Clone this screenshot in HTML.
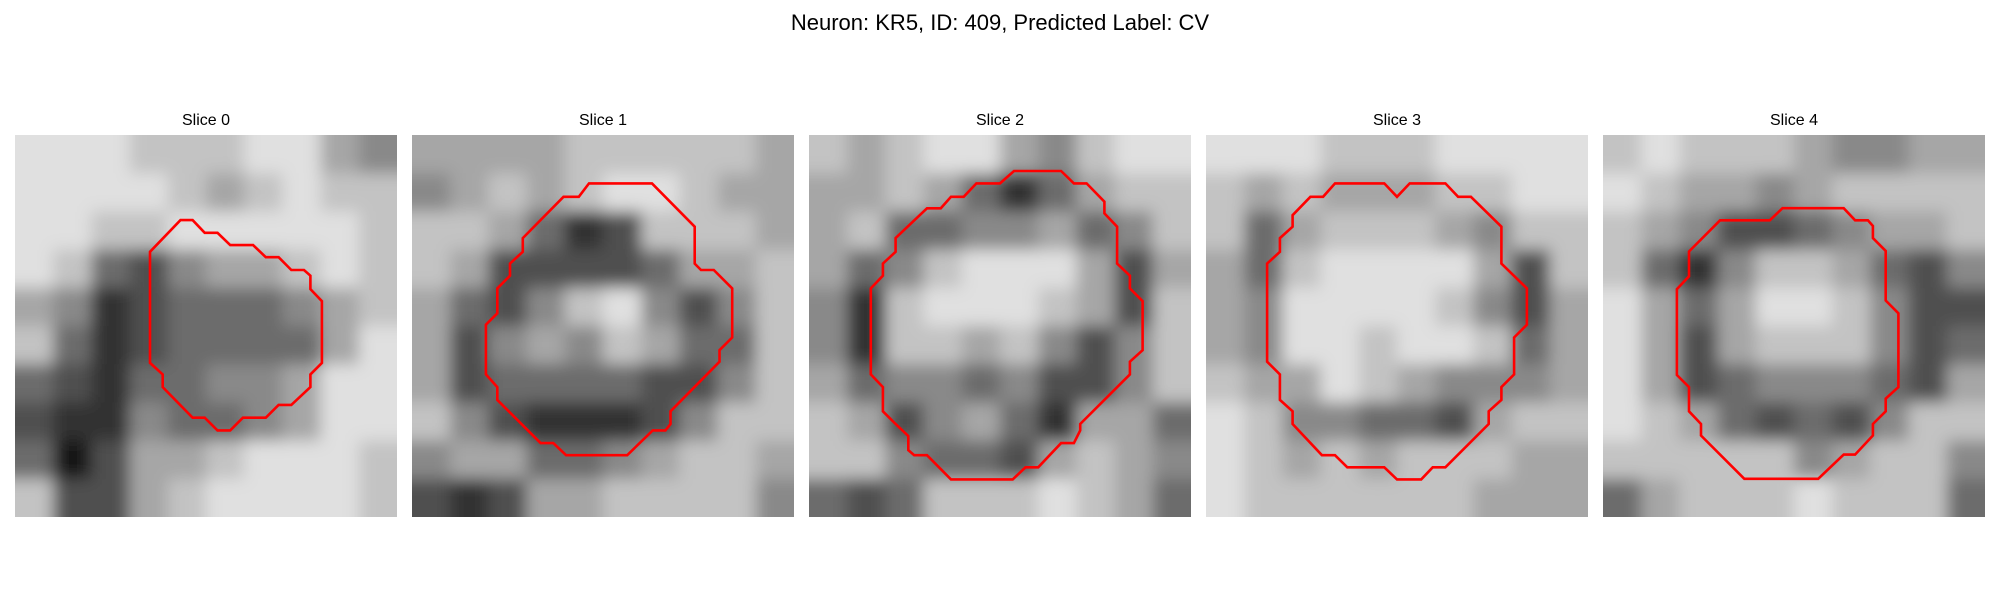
<!DOCTYPE html>
<html><head><meta charset="utf-8">
<style>
html,body{margin:0;padding:0;background:#fff;}
svg{display:block;font-family:"Liberation Sans","DejaVu Sans",sans-serif;}
</style></head>
<body>
<svg id="fig" width="2000" height="600" viewBox="0 0 2000 600" xmlns="http://www.w3.org/2000/svg">
<defs>
<filter id="soft" x="-0.1" y="-0.1" width="1.2" height="1.2" filterUnits="objectBoundingBox">
<feGaussianBlur stdDeviation="8"/>
</filter>
</defs>
<text x="1000" y="30" text-anchor="middle" font-size="22" fill="#000">Neuron: KR5, ID: 409, Predicted Label: CV</text>
<g id="panels"></g>
</svg>
<script>
const sliceTitles = ["Slice 0","Slice 1","Slice 2","Slice 3","Slice 4"];
// coarse 10x10 intensity grids (0 = black, 9 = white)
const grid0 = [
[8,8,8,7,7,7,8,8,6,5],[8,8,8,8,7,6,7,8,7,7],[8,8,7,7,8,8,8,8,8,7],[8,7,4,3,5,6,6,7,8,7],
[6,5,2,3,4,4,4,5,6,7],[7,4,2,3,4,4,4,4,6,8],[4,3,2,4,4,5,5,6,8,8],[3,2,2,5,4,4,5,6,8,8],
[4,1,3,6,6,7,8,8,8,7],[7,3,3,6,7,8,8,8,8,7]];
const grid1 = [
[6,6,6,6,7,7,7,7,7,6],[5,6,7,6,7,8,8,7,6,6],[7,7,6,4,2,3,7,7,7,6],[7,6,3,3,3,3,4,6,6,7],
[6,4,3,5,7,8,5,3,5,7],[6,3,5,6,5,7,6,4,4,7],[6,3,4,4,4,4,3,3,5,7],[7,5,3,2,2,2,3,5,7,7],
[5,6,6,4,4,5,6,7,7,6],[3,2,3,6,6,7,7,7,7,5]];
const grid2 = [
[7,6,7,8,8,6,5,7,8,8],[6,6,7,6,4,2,4,6,7,7],[6,7,4,4,5,5,6,4,5,7],[6,4,5,7,8,8,8,6,3,6],
[5,2,7,8,8,8,7,6,3,7],[5,2,7,7,6,7,5,3,5,7],[6,4,5,5,4,5,3,3,5,7],[7,6,3,5,6,4,2,6,6,4],
[7,7,5,4,4,3,6,7,6,5],[4,3,4,7,7,7,8,7,6,4]];
const grid3 = [
[8,8,8,7,7,7,8,8,8,8],[7,6,7,6,6,6,7,7,8,8],[7,4,6,7,7,7,6,5,7,7],[6,4,7,8,8,8,8,6,3,7],
[6,5,8,8,8,8,7,5,3,6],[6,5,8,8,7,8,8,7,4,6],[7,6,6,8,7,6,5,5,5,6],[8,7,5,5,4,4,3,6,7,7],
[8,7,6,7,6,7,7,7,6,6],[8,7,7,7,7,7,7,6,6,6]];
const grid4 = [
[7,8,7,7,7,6,5,5,6,6],[8,7,6,6,5,6,7,7,7,7],[7,6,5,3,3,4,5,6,6,7],[7,4,2,5,7,7,6,4,3,5],
[8,6,4,6,8,8,7,5,3,3],[8,6,3,6,7,7,7,5,3,4],[8,6,3,4,5,5,5,4,3,6],[8,7,6,4,3,4,3,5,7,7],
[7,7,7,7,7,5,6,7,7,5],[4,6,7,7,7,8,7,7,7,4]];
// contour vertices in image cell units (0..30)
const contour0 = [[13,6.68],[13.95,6.68],[14.9,7.68],[15.9,7.68],[16.9,8.65],[18.7,8.65],[19.7,9.6],[20.7,9.6],[21.7,10.6],[22.7,10.6],[23.2,11.05],[23.2,12.1],[24.1,13.05],[24.1,17.9],[23.2,18.8],[23.2,19.8],[21.7,21.2],[20.7,21.2],[19.7,22.2],[17.9,22.2],[16.9,23.2],[15.9,23.2],[14.9,22.2],[13.95,22.2],[11.6,19.8],[11.6,18.8],[10.6,17.9],[10.6,9.17]];
const contour1 = [[13.9,3.8],[18.85,3.8],[22.2,7.2],[22.2,10.1],[22.7,10.6],[23.7,10.6],[25.15,12.05],[25.15,15.9],[24.15,16.9],[24.15,17.8],[20.3,21.7],[20.3,22.7],[19.9,23.2],[18.9,23.2],[16.9,25.15],[12.1,25.15],[11.1,24.2],[10.1,24.2],[6.7,20.8],[6.7,19.8],[5.8,18.8],[5.8,14.9],[6.7,14],[6.7,12.05],[7.7,11.05],[7.7,10.1],[8.7,9.17],[8.7,8.1],[11.9,4.85],[13.1,4.85]];
const contour2 = [[16.1,2.83],[19.8,2.83],[20.8,3.8],[21.8,3.8],[23.2,5.24],[23.2,6.16],[24.2,7.2],[24.2,10.1],[25.2,11.05],[25.2,12.05],[26.2,13.05],[26.2,16.9],[25.2,17.8],[25.2,18.8],[21.3,22.7],[21.3,23.2],[20.8,24.2],[19.8,24.2],[18,26.1],[17,26.1],[16,27.05],[11.15,27.05],[9.27,25.15],[8.26,25.15],[7.8,24.75],[7.8,23.65],[6.8,22.7],[5.8,21.7],[5.8,19.8],[4.85,18.8],[4.85,12.05],[5.8,11.05],[5.8,10.1],[6.8,9.17],[6.8,8.1],[9.27,5.76],[10.35,5.76],[11.15,4.85],[12.15,4.85],[13.15,3.8],[15,3.8]];
const contour3 = [[10.13,3.8],[14,3.8],[15,4.85],[16,3.8],[18.8,3.8],[19.8,4.85],[20.8,4.85],[23.2,7.2],[23.2,10.1],[25.2,12.05],[25.2,14.9],[24.2,15.9],[24.2,18.8],[23.2,19.8],[23.2,20.8],[22.2,21.7],[22.2,22.7],[18.8,26.1],[17.8,26.1],[16.9,27.05],[15,27.05],[14,26.1],[11.1,26.1],[10.13,25.15],[9.1,25.15],[6.8,22.7],[6.8,21.7],[5.8,20.8],[5.8,18.8],[4.8,17.8],[4.8,10.1],[5.8,9.17],[5.8,8.1],[6.8,7.2],[6.8,6.3],[8.2,4.85],[9.2,4.85]];
const contour4 = [[14.1,5.75],[18.9,5.75],[19.8,6.7],[20.8,6.7],[21.2,7.15],[21.2,8.1],[22.2,9.1],[22.2,13],[23.2,14],[23.2,19.8],[22.2,20.7],[22.2,21.7],[21.2,22.7],[21.2,23.6],[19.8,25.1],[18.9,25.1],[16.9,27],[11.1,27],[7.7,23.6],[7.7,22.7],[6.75,21.7],[6.75,19.8],[5.8,18.85],[5.8,12.1],[6.75,11.1],[6.75,9.15],[9.2,6.7],[13.1,6.7]];

const grids = [grid0,grid1,grid2,grid3,grid4];
const contours = [contour0,contour1,contour2,contour3,contour4];

const NS = "http://www.w3.org/2000/svg";
const panelLeft0 = 15, panelStep = 397, panelTop = 135, panelSize = 382, cells = 30;
function xScale(i, c){ return panelLeft0 + panelStep*i + c/cells*panelSize; }
function yScale(c){ return panelTop + c/cells*panelSize; }
function gray(v){ const g = Math.max(0, Math.min(255, Math.round(v*29 - 8))); return `rgb(${g},${g},${g})`; }

const root = document.getElementById('panels');
const defs = document.querySelector('defs');
grids.forEach((grid, i) => {
  const x0 = xScale(i,0), y0 = yScale(0);
  const cp = document.createElementNS(NS,'clipPath');
  cp.setAttribute('id','clip'+i);
  const cr = document.createElementNS(NS,'rect');
  cr.setAttribute('x',x0); cr.setAttribute('y',y0);
  cr.setAttribute('width',panelSize); cr.setAttribute('height',panelSize);
  cp.appendChild(cr); defs.appendChild(cp);

  const g = document.createElementNS(NS,'g');
  
  
  g.setAttribute('clip-path','url(#clip'+i+')');
  root.appendChild(g);

  const img = document.createElementNS(NS,'g');
  
  
  img.setAttribute('filter','url(#soft)');
  g.appendChild(img);
  const n = grid.length;
  for (let r = -1; r <= n; r++) {
    for (let c = -1; c <= n; c++) {
      const v = grid[Math.max(0, Math.min(n-1, r))][Math.max(0, Math.min(n-1, c))];
      const rect = document.createElementNS(NS,'rect');
      const cx0 = xScale(i, c*cells/n), cx1 = xScale(i, (c+1)*cells/n);
      const cy0 = yScale(r*cells/n), cy1 = yScale((r+1)*cells/n);
      rect.setAttribute('x', cx0); rect.setAttribute('y', cy0);
      rect.setAttribute('width', cx1-cx0+0.5); rect.setAttribute('height', cy1-cy0+0.5);
      rect.setAttribute('fill', gray(v));
      
      
      img.appendChild(rect);
    }
  }

  const poly = document.createElementNS(NS,'polygon');
  poly.setAttribute('points', contours[i].map(p => xScale(i,p[0]).toFixed(1)+','+yScale(p[1]).toFixed(1)).join(' '));
  poly.setAttribute('fill','none');
  poly.setAttribute('stroke','#ff0000');
  poly.setAttribute('stroke-width','2.6');
  
  
  g.appendChild(poly);

  const t = document.createElementNS(NS,'text');
  t.setAttribute('x', x0 + panelSize/2);
  t.setAttribute('y', 125);
  t.setAttribute('text-anchor','middle');
  t.setAttribute('font-size','16');
  t.textContent = sliceTitles[i];
  
  
  root.appendChild(t);
});
</script>
</body></html>
